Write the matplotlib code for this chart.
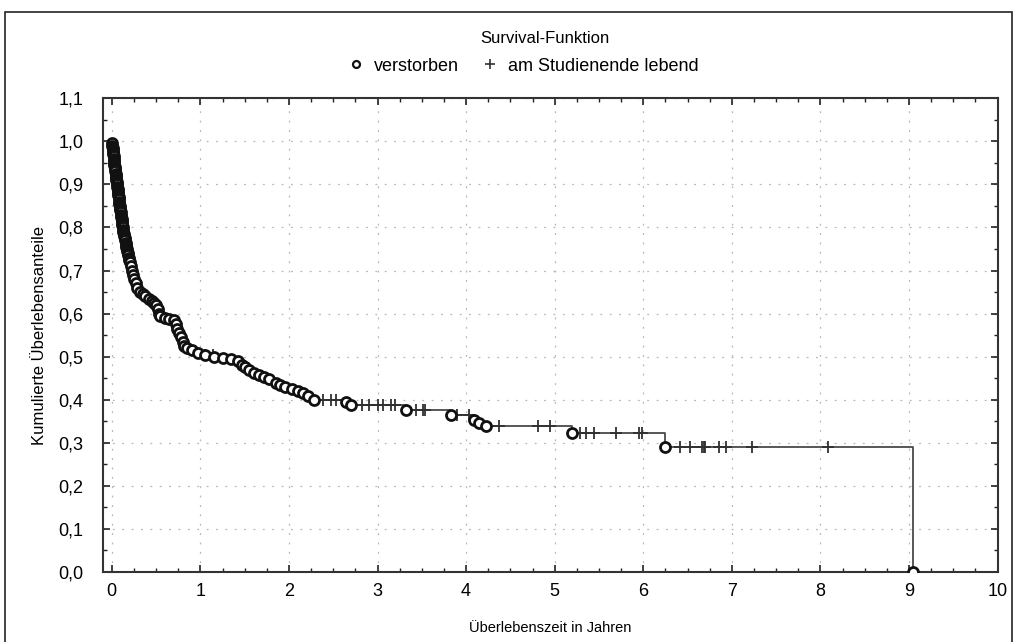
import matplotlib
matplotlib.use('Agg')
import matplotlib.pyplot as plt
import numpy as np
from matplotlib.lines import Line2D
from matplotlib.patches import Rectangle
from matplotlib.ticker import MultipleLocator, FuncFormatter

plt.rcParams['font.family'] = ['Liberation Sans', 'DejaVu Sans']

# Verstorbene: Zeitpunkt (Jahre) und Survival nach dem Ereignis
tod_zeit = [0.005, 0.008, 0.010, 0.012, 0.015, 0.018, 0.020, 0.022, 0.025, 0.028,
            0.030, 0.033, 0.036, 0.040, 0.043, 0.046, 0.050, 0.053, 0.056, 0.060,
            0.063, 0.066, 0.070, 0.072, 0.075, 0.078, 0.080, 0.083, 0.086, 0.090,
            0.093, 0.096, 0.100, 0.103, 0.106, 0.110, 0.113, 0.116, 0.120, 0.123,
            0.126, 0.130, 0.135, 0.140, 0.145, 0.150, 0.155, 0.160, 0.165, 0.170,
            0.175, 0.180, 0.185, 0.190, 0.200, 0.210, 0.220, 0.230, 0.240, 0.250,
            0.270, 0.290, 0.320, 0.350, 0.380, 0.420, 0.450, 0.480, 0.500, 0.520,
            0.530, 0.550, 0.600, 0.650, 0.700, 0.720, 0.740, 0.760, 0.780, 0.800,
            0.820, 0.850, 0.900, 0.970, 1.050, 1.150, 1.250, 1.350, 1.420, 1.470,
            1.500, 1.550, 1.600, 1.660, 1.720, 1.780, 1.850, 1.900, 1.960, 2.030,
            2.100, 2.160, 2.220, 2.280, 2.640, 2.700, 3.320, 3.830, 4.090, 4.150,
            4.220, 5.190, 6.240, 9.050]
tod_surv = [0.995, 0.990, 0.985, 0.980, 0.975, 0.970, 0.965, 0.960, 0.955, 0.950,
            0.945, 0.940, 0.935, 0.930, 0.925, 0.920, 0.915, 0.910, 0.905, 0.900,
            0.895, 0.890, 0.885, 0.880, 0.875, 0.870, 0.865, 0.860, 0.855, 0.850,
            0.845, 0.840, 0.835, 0.830, 0.825, 0.820, 0.815, 0.810, 0.805, 0.800,
            0.795, 0.790, 0.785, 0.780, 0.775, 0.770, 0.765, 0.760, 0.755, 0.750,
            0.745, 0.740, 0.735, 0.730, 0.725, 0.720, 0.710, 0.700, 0.690, 0.680,
            0.670, 0.660, 0.650, 0.645, 0.640, 0.635, 0.630, 0.625, 0.620, 0.610,
            0.600, 0.595, 0.590, 0.588, 0.584, 0.575, 0.565, 0.555, 0.545, 0.535,
            0.525, 0.520, 0.515, 0.508, 0.504, 0.500, 0.498, 0.495, 0.490, 0.480,
            0.475, 0.470, 0.462, 0.458, 0.452, 0.447, 0.440, 0.434, 0.430, 0.425,
            0.420, 0.415, 0.408, 0.400, 0.394, 0.388, 0.376, 0.365, 0.353, 0.345,
            0.338, 0.322, 0.290, 0.000]

# am Studienende lebend (zensiert)
zens_zeit = [1.05, 1.14, 2.39, 2.47, 2.53, 2.83, 2.90, 3.01, 3.06, 3.15, 3.20,
             3.43, 3.51, 3.54, 3.90, 4.03, 4.37, 4.81, 4.95, 5.29, 5.35, 5.44,
             5.69, 5.95, 5.99, 6.42, 6.53, 6.66, 6.68, 6.70, 6.85, 6.93, 7.23, 8.09]

xticks = [0, 1, 2, 3, 4, 5, 6, 7, 8, 9, 10]
yticks = [0.0, 0.1, 0.2, 0.3, 0.4, 0.5, 0.6, 0.7, 0.8, 0.9, 1.0, 1.1]

t_all = np.array([0.0] + tod_zeit)
s_all = np.array([1.0] + tod_surv)
zt = np.array(zens_zeit)
zs = s_all[np.searchsorted(t_all, zt, side='right') - 1]

fig = plt.figure(figsize=(10.19, 6.42), dpi=100)
ax = fig.add_axes([0.101, 0.109, 0.878, 0.738])

lc = '#4a4a4a'
ax.step(t_all, s_all, where='post', color=lc, lw=1.3, zorder=2)
ax.plot(zt, zs, '+', color='#303030', ms=9, mew=1.3, zorder=3)
ax.plot(tod_zeit, tod_surv, 'o', mfc='white', mec='#111111', ms=7.2, mew=2.0, zorder=4)

ax.set_xlim(-0.1, 10)
ax.set_ylim(0, 1.1)
ax.set_xticks(xticks)
ax.set_yticks(yticks)
ax.xaxis.set_minor_locator(MultipleLocator(0.25))
ax.yaxis.set_minor_locator(MultipleLocator(0.05))
ax.yaxis.set_major_formatter(FuncFormatter(lambda v, p: f'{v:.1f}'.replace('.', ',')))
ax.tick_params(which='both', direction='in', top=True, right=True,
               labeltop=False, labelright=False, color='#222222', labelsize=13)
ax.tick_params(which='major', length=5, width=1.2)
ax.tick_params(which='minor', length=3, width=1.0)
ax.tick_params(axis='x', pad=8)
ax.tick_params(axis='y', pad=14)
for sp in ax.spines.values():
    sp.set_linewidth(1.5)
    sp.set_color('#333333')
ax.grid(True, which='major', color='#b8b8b8', lw=0.9, linestyle=(0, (1.5, 6)))

ax.set_xlabel('Überlebenszeit in Jahren', fontsize=10.5, labelpad=15)
ax.set_ylabel('Kumulierte Überlebensanteile', fontsize=12, labelpad=8)

fig.text(0.535, 0.94, 'Survival-Funktion', ha='center', va='center', fontsize=12)
handles = [Line2D([], [], ls='', marker='o', mfc='white', mec='#111111', ms=5, mew=1.6),
           Line2D([], [], ls='', marker='+', color='#303030', ms=7, mew=1.2)]
fig.legend(handles, ['verstorben', 'am Studienende lebend'], loc='center',
           bbox_to_anchor=(0.513, 0.897), ncol=2, frameon=False, fontsize=13,
           handlelength=1, handletextpad=0.5, columnspacing=1.2)

fig.add_artist(Rectangle((0.005, -0.05), 0.988, 1.031, transform=fig.transFigure,
                         fill=False, ec='#222222', lw=1.2))

fig.savefig('out.png', dpi=100)
